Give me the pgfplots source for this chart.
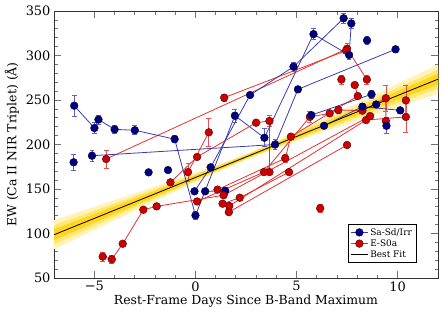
\documentclass[border=0pt]{standalone}
\usepackage{fontspec}
\setmainfont{DejaVu Serif}
\usepackage{pgfplots}
\pgfplotsset{compat=1.18}
\definecolor{bmark}{HTML}{00007F}
\definecolor{bedge}{HTML}{000040}
\definecolor{bline}{HTML}{3A3AAE}
\definecolor{berr}{HTML}{6060C8}
\definecolor{rmark}{HTML}{CC0000}
\definecolor{redge}{HTML}{500000}
\definecolor{rline}{HTML}{E83030}
\definecolor{rerr}{HTML}{E85050}
\definecolor{bandA}{HTML}{FFF3B8}
\definecolor{bandB}{HTML}{FFE870}
\definecolor{bandC}{HTML}{FFD520}
\pgfplotsset{
 bsn/.style={color=bline, line width=0.8pt, mark=*, mark size=3.9pt,
   mark options={fill=bmark, draw=bedge, line width=0.4pt},
   error bars/y dir=both, error bars/y explicit,
   error bars/error bar style={color=berr, line width=0.7pt},
   error bars/error mark options={rotate=90, mark size=2.4pt, color=berr, line width=0.7pt}},
 rsn/.style={color=rline, line width=0.8pt, mark=*, mark size=3.9pt,
   mark options={fill=rmark, draw=redge, line width=0.4pt},
   error bars/y dir=both, error bars/y explicit,
   error bars/error bar style={color=rerr, line width=0.7pt},
   error bars/error mark options={rotate=90, mark size=2.4pt, color=rerr, line width=0.7pt}},
}
\begin{document}
\begin{tikzpicture}
\begin{axis}[
 scale only axis, width=384bp, height=267bp,
 xmin=-7, xmax=12, ymin=50, ymax=350,
 xtick={-5,0,5,10}, xticklabels={−5,0,5,10},
 ytick={50,100,150,200,250,300,350},
 minor x tick num=4, minor y tick num=4,
 tick align=inside, major tick length=7bp, minor tick length=3.5bp,
 tick style={color=black!55, line width=0.8pt},
 axis line style={color=black!80, line width=0.8pt},
 /pgf/number format/assume math mode=true,
 ticklabel style={font=\fontsize{13}{15}\selectfont},
 label style={font=\fontsize{12.5}{14}\selectfont},
 xlabel={Rest-Frame Days Since B-Band Maximum},
 ylabel={EW (Ca II NIR Triplet) (Å)},
 xlabel style={yshift=3bp},
 legend style={at={(0.943,0.056)}, anchor=south east, font=\fontsize{9}{10.5}\selectfont,
   draw=black, line width=0.6pt, fill=white, inner sep=2pt, row sep=-1pt},
 legend cell align=left,
]
% confidence band
\addplot[fill=bandA, draw=none, forget plot] coordinates {(-7,115.0) (-4,137.65) (-1,160.46) (1,176.14) (2.5,189) (4,203.74) (6,224.86) (9,257.25) (12,289.8) (12,257.0) (9,234.35) (6,211.54) (4,195.86) (2.5,183) (1,168.26) (-1,147.14) (-4,114.75) (-7,82.2)};
\addplot[fill=bandB, draw=none, forget plot] coordinates {(-7,109.33) (-4,133.76) (-1,158.36) (1,175.15) (2.5,188.45) (4,202.75) (6,222.76) (9,253.36) (12,284.13) (12,262.67) (9,238.24) (6,213.64) (4,196.85) (2.5,183.55) (1,169.25) (-1,149.24) (-4,118.64) (-7,87.87)};
\addplot[fill=bandC, draw=none, forget plot] coordinates {(-7,104.64) (-4,130.58) (-1,156.7) (1,174.39) (2.5,188) (4,201.99) (6,221.1) (9,250.18) (12,279.44) (12,267.36) (9,241.42) (6,215.3) (4,197.61) (2.5,184) (1,170.01) (-1,150.9) (-4,121.82) (-7,92.56)};
% red SNe
\addplot[rsn, forget plot] table[row sep=\\, y error=e] {x y e\\ -4.42 183.7 10\\ 7.5 307.6 6\\ 8.48 273 5\\};
\addplot[rsn, forget plot] table[row sep=\\, y error=e] {x y e\\ 1.42 252.6 4\\ 7.45 305.5 0\\};
\addplot[rsn, forget plot] table[row sep=\\, y error=e] {x y e\\ -1.24 157.5 2\\ 0.08 186 2\\ 3.0 224.5 0\\ 3.66 226.4 6\\ 3.66 169 0\\};
\addplot[rsn, forget plot] table[row sep=\\, y error=e] {x y e\\ -0.37 169 10\\ 0.66 213.7 16\\};
\addplot[rsn, forget plot] table[row sep=\\, y error=e] {x y e\\ 0.08 136 0\\ 3.39 169 0\\ 5.66 231 6\\ 6.64 235 0\\ 7.07 238.8 4\\ 8.26 238 0\\ 9.42 252 15\\ 9.42 226.4 0\\};
\addplot[rsn, forget plot] table[row sep=\\, y error=e] {x y e\\ 1.09 149.3 0\\ 4.44 184.5 4\\ 4.72 208.8 0\\ 8.03 254.5 0\\ 7.88 266.8 0\\};
\addplot[rsn, forget plot] table[row sep=\\, y error=e] {x y e\\ 1.34 133.5 0\\ 2.19 140.2 0\\ 4.63 169 0\\};
\addplot[rsn, forget plot] table[row sep=\\, y error=e] {x y e\\ 1.65 124 0\\ 7.5 199.4 0\\};
\addplot[rsn, forget plot] table[row sep=\\, y error=e] {x y e\\ 1.67 131 0\\ 8.44 227.5 0\\ 10.41 231 17\\ 10.41 249.6 17\\};
\addplot[rsn, forget plot] table[row sep=\\, y error=e] {x y e\\ 6.17 128.3 5\\};
\addplot[rsn, forget plot] table[row sep=\\, y error=e] {x y e\\ 7.22 273 5\\};
% blue SNe
\addplot[bsn] table[row sep=\\, y error=e] {x y e\\ -6.0 243.6 12\\ -5.0 218.5 6\\ -4.8 228 5\\ -4.0 217 5\\ -3.0 216 5\\ -1.03 206 4\\ 0.0 120.4 4\\ 1.95 232.4 7\\ 3.41 207.6 10\\ 5.84 324 6\\ 7.6 300.6 5\\ 7.71 336 6\\};
\addlegendentry{Sa-Sd/Irr}
\addplot[bsn, forget plot] table[row sep=\\, y error=e] {x y e\\ -5.12 187.4 6\\ 3.94 200 6\\ 5.07 262 3\\ 9.9 307 3\\};
\addplot[bsn, forget plot] table[row sep=\\, y error=e] {x y e\\ -0.05 147.4 0\\ 0.75 174.4 3\\ 2.7 255.6 3\\ 4.85 287.4 5\\ 7.33 341.8 6\\};
\addplot[bsn, forget plot] table[row sep=\\, y error=e] {x y e\\ 0.48 147.4 0\\ 1.47 148 4\\};
\addplot[bsn, forget plot] table[row sep=\\, y error=e] {x y e\\ 5.73 233 3\\ 8.71 256.4 4\\};
\addplot[bsn, forget plot] table[row sep=\\, y error=e] {x y e\\ 6.36 221 0\\ 8.26 242.5 4\\ 10.13 238.4 3\\};
\addplot[bsn, forget plot] table[row sep=\\, y error=e] {x y e\\ -6.03 180 9\\};
\addplot[bsn, forget plot] table[row sep=\\, y error=e] {x y e\\ -2.32 168.7 0\\};
\addplot[bsn, forget plot] table[row sep=\\, y error=e] {x y e\\ -1.36 171.3 0\\};
\addplot[bsn, forget plot] table[row sep=\\, y error=e] {x y e\\ 8.49 317 5\\};
\addplot[bsn, forget plot] table[row sep=\\, y error=e] {x y e\\ 8.94 245 3\\};
\addplot[bsn, forget plot] table[row sep=\\, y error=e] {x y e\\ 9.45 221 9\\};
% red legend + main red chain
\addplot[rsn] table[row sep=\\, y error=e] {x y e\\ -4.59 74 5\\ -4.14 71 5\\ -3.6 88.5 0\\ -2.58 126.7 3\\ -1.92 130.5 3\\ 1.39 143 0\\ 8.64 232 0\\};
\addlegendentry{E-S0a}
\addplot[black, line width=0.8pt] coordinates {(-7,98.6) (12,273.4)};
\addlegendentry{Best Fit}
\end{axis}
\path (current axis.south west) ++(-54bp,-40bp) rectangle ([xshift=5bp,yshift=11bp]current axis.north east);
\end{tikzpicture}
\end{document}
